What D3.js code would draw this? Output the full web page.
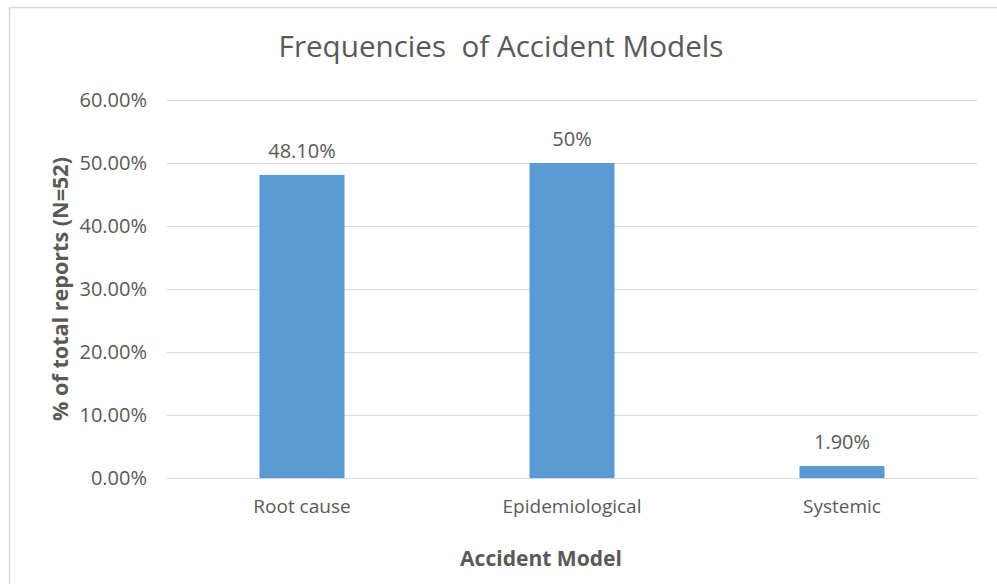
<!DOCTYPE html>
<html>
<head>
<meta charset="utf-8">
<script src="https://cdn.jsdelivr.net/npm/d3@7"></script>
<style>
  html, body { margin: 0; padding: 0; background: #fff; }
  svg { display: block; font-family: "Open Sans", "Noto Sans", sans-serif; }
</style>
</head>
<body>
<svg id="chart" width="997" height="584"></svg>
<script>
// Share of accident reports by accident model (N = 52)
const categories = ["Root cause", "Epidemiological", "Systemic"];
const values = [48.1, 50, 1.9];
const valueLabels = ["48.10%", "50%", "1.90%"];
const yTicks = [0, 10, 20, 30, 40, 50, 60];
const titleText = "Frequencies  of Accident Models";
const xTitle = "Accident Model";
const yTitle = "% of total reports (N=52)";

const W = 997, H = 584;
const margin = { top: 100, right: 20, bottom: 106, left: 167 };
const svg = d3.select("#chart");
const textColor = "#595959";
const gridColor = "#d9d9d9";
const barColor = "#5b9bd5";

// chart frame
svg.append("rect")
  .attr("x", 9.5).attr("y", 7.5)
  .attr("width", W + 10).attr("height", H + 10)
  .attr("fill", "#fff").attr("stroke", gridColor).attr("stroke-width", 1.5);

const x = d3.scaleBand()
  .domain(categories)
  .range([margin.left, W - margin.right])
  .paddingInner(0.685).paddingOuter(0.3425);

const y = d3.scaleLinear()
  .domain([0, 60])
  .range([H - margin.bottom, margin.top]);

// gridlines + tick labels via a left axis
const yAxis = d3.axisLeft(y)
  .tickValues(yTicks)
  .tickSize(-(W - margin.right - margin.left))
  .tickPadding(20)
  .tickFormat(d => d.toFixed(2) + "%");

const gy = svg.append("g")
  .attr("transform", `translate(${margin.left},0)`)
  .call(yAxis);
gy.select(".domain").remove();
gy.selectAll(".tick line").attr("stroke", gridColor).attr("stroke-width", 1);
gy.selectAll(".tick text")
  .attr("fill", textColor)
  .attr("font-size", 20)
  .attr("font-family", "'Open Sans', sans-serif");

// bars
svg.append("g").selectAll("rect")
  .data(values)
  .join("rect")
  .attr("x", (d, i) => x(categories[i]))
  .attr("width", x.bandwidth())
  .attr("y", d => y(d))
  .attr("height", d => y(0) - y(d))
  .attr("fill", barColor);

// value labels
svg.append("g").selectAll("text")
  .data(values)
  .join("text")
  .attr("x", (d, i) => x(categories[i]) + x.bandwidth() / 2)
  .attr("y", d => y(d) - 17)
  .attr("text-anchor", "middle")
  .attr("fill", textColor)
  .attr("font-size", 20)
  .text((d, i) => valueLabels[i]);

// category axis labels
const xAxis = d3.axisBottom(x).tickSize(0).tickPadding(22);
const gx = svg.append("g")
  .attr("transform", `translate(0,${y(0)})`)
  .call(xAxis);
gx.select(".domain").remove();
gx.selectAll(".tick text")
  .attr("fill", textColor)
  .attr("font-size", 19)
  .attr("font-family", "'Open Sans', sans-serif");

// scale a text element's font so it spans a given width
function fitWidth(sel, size, target) {
  const w = sel.node().getComputedTextLength();
  sel.attr("font-size", size * target / w);
}

// title
const title = svg.append("text")
  .attr("x", 501).attr("y", 57)
  .attr("text-anchor", "middle")
  .attr("fill", textColor)
  .attr("font-size", 27)
  .style("white-space", "pre")
  .text(titleText);
fitWidth(title, 27, 445);

// axis titles
const xt = svg.append("text")
  .attr("x", 541).attr("y", 566)
  .attr("text-anchor", "middle")
  .attr("fill", textColor)
  .attr("font-size", 19)
  .attr("font-weight", "bold")
  .text(xTitle);
fitWidth(xt, 19, 162);

const yt = svg.append("text")
  .attr("transform", `translate(68,${(y(0) + y(60)) / 2}) rotate(-90)`)
  .attr("text-anchor", "middle")
  .attr("fill", textColor)
  .attr("font-size", 19)
  .attr("font-weight", "bold")
  .text(yTitle);
fitWidth(yt, 19, 264);
</script>
</body>
</html>
